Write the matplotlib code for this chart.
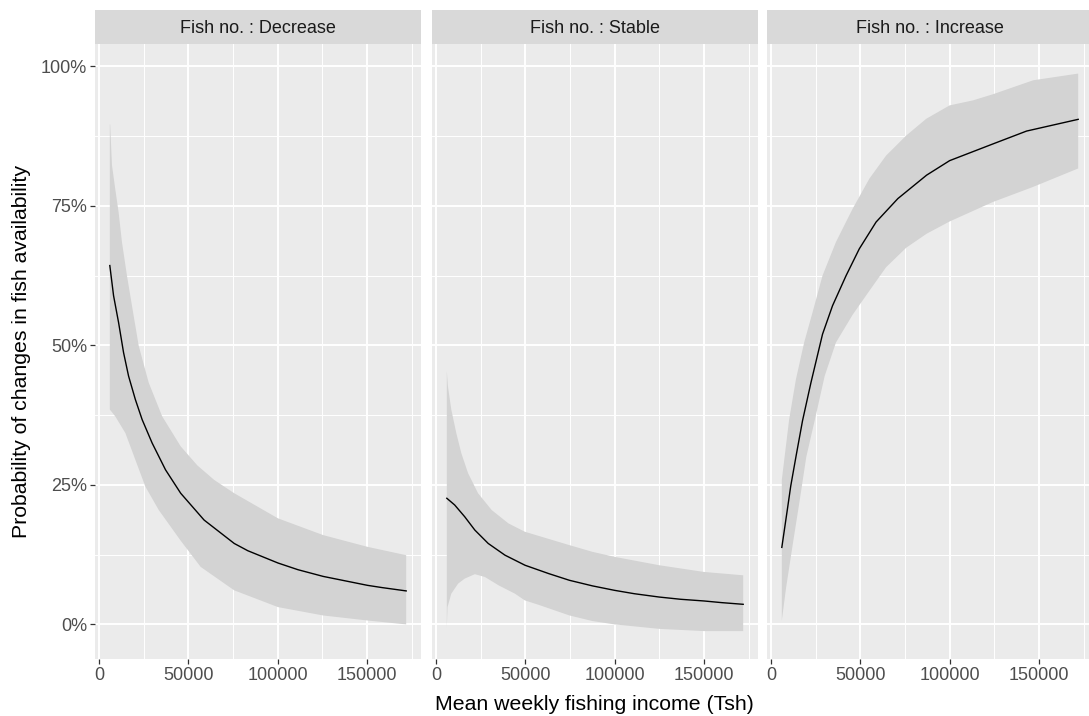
import numpy as np
import matplotlib
matplotlib.use("Agg")
import matplotlib.pyplot as plt
from matplotlib.ticker import FixedLocator, FuncFormatter

plt.rcParams['font.family'] = ['Liberation Sans', 'DejaVu Sans']

# predicted probabilities by mean weekly income, one facet per outcome
panels = ['Fish no. : Decrease', 'Fish no. : Stable', 'Fish no. : Increase']

dec_x = [6000, 8100, 10900, 13700, 16500, 20300, 24100, 29700, 37200, 45700, 58800,
         75700, 83300, 100200, 111400, 125500, 150300, 158400, 172000]
dec_y = [0.643, 0.589, 0.541, 0.487, 0.445, 0.403, 0.367, 0.325, 0.277, 0.235, 0.187,
         0.145, 0.132, 0.110, 0.098, 0.086, 0.070, 0.066, 0.060]
dec_up_x = [6000, 6200, 7200, 9000, 10900, 12800, 15600, 18400, 22200, 27800, 35300,
            45700, 55000, 64400, 75700, 100200, 125500, 150300, 172000]
dec_up = [0.896, 0.896, 0.823, 0.781, 0.739, 0.685, 0.625, 0.571, 0.499, 0.433, 0.373,
          0.319, 0.285, 0.259, 0.235, 0.190, 0.160, 0.139, 0.124]
dec_lo_x = [6000, 9000, 14700, 20300, 25900, 33400, 45700, 56900, 75700, 100200,
            125500, 150300, 172000]
dec_lo = [0.385, 0.373, 0.343, 0.295, 0.247, 0.205, 0.150, 0.103, 0.061, 0.031,
          0.016, 0.007, 0.0]

sta_x = [6000, 10400, 16000, 21700, 29200, 38600, 49800, 63100, 74700, 87600, 100000,
         111000, 125000, 137000, 150000, 160000, 172000]
sta_y = [0.226, 0.214, 0.193, 0.169, 0.145, 0.124, 0.106, 0.091, 0.079, 0.069, 0.061,
         0.055, 0.049, 0.045, 0.042, 0.039, 0.036]
sta_up_x = [6000, 6600, 8500, 11300, 14100, 17900, 23500, 31100, 40500, 49700, 74700,
            87600, 100000, 125000, 150000, 172000]
sta_up = [0.454, 0.427, 0.385, 0.343, 0.307, 0.271, 0.235, 0.205, 0.181, 0.166, 0.142,
          0.130, 0.121, 0.106, 0.094, 0.088]
sta_lo_x = [6000, 6400, 8500, 12300, 16000, 21700, 27300, 35000, 44200, 49700, 57500,
            74700, 87600, 100000, 125000, 150000, 172000]
sta_lo = [-0.005, 0.031, 0.055, 0.073, 0.082, 0.090, 0.085, 0.070, 0.055, 0.043, 0.035,
          0.016, 0.006, 0.0, -0.008, -0.012, -0.012]

inc_x = [6000, 9200, 11000, 14000, 17600, 22300, 28800, 34400, 42000, 49400, 58800,
         71000, 87100, 100000, 124300, 143100, 172000]
inc_y = [0.138, 0.208, 0.248, 0.302, 0.365, 0.433, 0.520, 0.571, 0.625, 0.673, 0.721,
         0.763, 0.805, 0.831, 0.861, 0.884, 0.905]
inc_up_x = [6000, 10100, 13900, 18500, 23200, 28800, 36300, 45700, 55100, 64400, 75700,
            86900, 100000, 113100, 124300, 146800, 172000]
inc_up = [0.259, 0.367, 0.439, 0.505, 0.559, 0.625, 0.685, 0.745, 0.799, 0.840, 0.876,
          0.906, 0.930, 0.939, 0.950, 0.975, 0.987]
inc_lo_x = [6000, 8400, 12200, 16000, 19700, 25100, 30000, 36300, 45700, 55100, 64400,
            75700, 87100, 100000, 124300, 146800, 172000]
inc_lo = [0.007, 0.066, 0.145, 0.222, 0.300, 0.375, 0.445, 0.505, 0.555, 0.598, 0.640,
          0.675, 0.700, 0.722, 0.757, 0.784, 0.817]

series = [
    (dec_x, dec_y, dec_up_x, dec_up, dec_lo_x, dec_lo),
    (sta_x, sta_y, sta_up_x, sta_up, sta_lo_x, sta_lo),
    (inc_x, inc_y, inc_up_x, inc_up, inc_lo_x, inc_lo),
]

x_ticks = [0, 50000, 100000, 150000]
y_ticks = [0, 0.25, 0.5, 0.75, 1.0]

fig = plt.figure(figsize=(10.89, 7.16), dpi=100)
W, H = 1089, 716
lefts = [95, 432, 767]
pw = 326
top, bottom, strip_top = 44, 659, 10

for i, (name, s) in enumerate(zip(panels, series)):
    lx, ly, ux, uy, dx, dy = s
    ax = fig.add_axes([lefts[i] / W, 1 - bottom / H, pw / W, (bottom - top) / H])
    ax.set_facecolor('#EBEBEB')
    for sp in ax.spines.values():
        sp.set_visible(False)

    # confidence ribbon as a closed polygon, then the fitted line
    px = np.concatenate([ux, dx[::-1]])
    py = np.concatenate([uy, dy[::-1]])
    ax.fill(px, py, color='#D3D3D3', lw=0, zorder=2)
    ax.plot(lx, ly, color='black', lw=1.0, zorder=3)

    ax.set_xlim(-2300, 180300)
    ax.set_ylim(-0.062, 1.04)
    ax.xaxis.set_major_locator(FixedLocator(x_ticks))
    ax.xaxis.set_minor_locator(FixedLocator([25000, 75000, 125000, 175000]))
    ax.yaxis.set_major_locator(FixedLocator(y_ticks))
    ax.yaxis.set_minor_locator(FixedLocator([0.125, 0.375, 0.625, 0.875]))
    ax.grid(which='major', color='white', lw=1.4, zorder=1)
    ax.grid(which='minor', color='white', lw=0.7, zorder=1)
    ax.set_axisbelow(True)
    ax.xaxis.set_major_formatter(FuncFormatter(lambda v, p: f'{int(v)}'))
    ax.yaxis.set_major_formatter(FuncFormatter(lambda v, p: f'{int(round(v * 100))}%'))
    ax.tick_params(which='major', length=3.5, width=0.9, color='#333333',
                   labelsize=13, labelcolor='#4D4D4D', pad=2)
    ax.tick_params(which='minor', length=0)
    if i > 0:
        ax.tick_params(axis='y', which='both', left=False, labelleft=False)

    # facet strip
    sax = fig.add_axes([lefts[i] / W, 1 - top / H, pw / W, (top - strip_top) / H])
    sax.set_facecolor('#D9D9D9')
    sax.set_xticks([])
    sax.set_yticks([])
    for sp in sax.spines.values():
        sp.set_visible(False)
    sax.text(0.5, 0.47, name, ha='center', va='center', fontsize=13,
             color='#1A1A1A', transform=sax.transAxes)

fig.text(594 / W, 1 - 704 / H, 'Mean weekly fishing income (Tsh)',
         ha='center', va='center', fontsize=15.3, color='black')
fig.text(22 / W, 1 - 351 / H, 'Probability of changes in fish availability',
         ha='center', va='center', rotation=90, fontsize=15.3, color='black')

fig.savefig('out.png', dpi=100)
